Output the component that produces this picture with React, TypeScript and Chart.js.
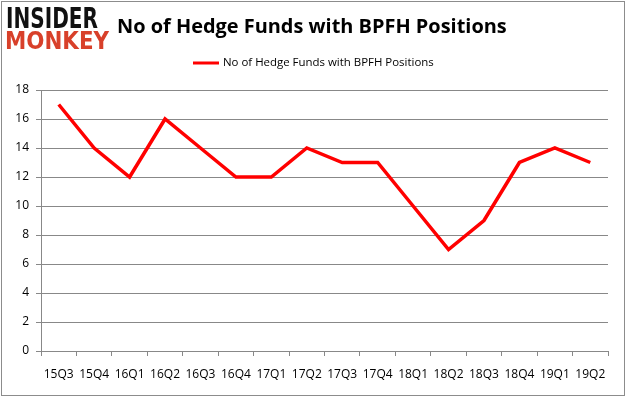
import React, { useEffect, useRef } from "react";
import { Chart, registerables } from "chart.js";

Chart.register(...registerables);

const categories = ["15Q3","15Q4","16Q1","16Q2","16Q3","16Q4","17Q1","17Q2","17Q3","17Q4","18Q1","18Q2","18Q3","18Q4","19Q1","19Q2"];
const hedgeFunds = [17,14,12,16,14,12,12,14,13,13,10,7,9,13,14,13];
const seriesLabel = "No of Hedge Funds with BPFH Positions";
const titleText = "No of Hedge Funds with BPFH Positions";

function fitFont(ctx: CanvasRenderingContext2D, text: string, weight: string, family: string, targetWidth: number) {
  ctx.font = `${weight} 100px ${family}`;
  const w = ctx.measureText(text).width;
  return (100 * targetWidth) / w;
}

const decorPlugin = {
  id: "decor",
  beforeDraw(chart: any) {
    const ctx = chart.ctx as CanvasRenderingContext2D;
    ctx.save();
    ctx.fillStyle = "#ffffff";
    ctx.fillRect(0, 0, chart.width, chart.height);
    ctx.restore();
  },
  afterDraw(chart: any) {
    const ctx = chart.ctx as CanvasRenderingContext2D;
    ctx.save();
    // outer border
    ctx.strokeStyle = "#8c8c8c";
    ctx.lineWidth = 1;
    ctx.strokeRect(1.5, 1.5, chart.width - 3, chart.height - 3);

    // logo
    const fam = "'DejaVu Sans'";
    let s = fitFont(ctx, "INSIDER", "bold", fam, 92);
    ctx.font = `bold ${s}px ${fam}`;
    ctx.textBaseline = "alphabetic";
    ctx.textAlign = "left";
    ctx.fillStyle = "#111111";
    ctx.save();
    ctx.translate(6, 28);
    ctx.scale(1, 21 / (s * 0.73));
    ctx.fillText("INSIDER", 0, 0);
    ctx.restore();
    s = fitFont(ctx, "MONKEY", "bold", fam, 104);
    ctx.font = `bold ${s}px ${fam}`;
    ctx.fillStyle = "#d8402a";
    ctx.save();
    ctx.translate(5, 49);
    ctx.scale(1, 18 / (s * 0.73));
    ctx.fillText("MONKEY", 0, 0);
    ctx.restore();

    // title
    const tf = "'Open Sans'";
    const ts = fitFont(ctx, titleText, "bold", tf, 390);
    ctx.font = `bold ${ts}px ${tf}`;
    ctx.fillStyle = "#000000";
    ctx.textBaseline = "middle";
    ctx.fillText(titleText, 117, 27);

    // legend
    ctx.strokeStyle = "#ff0000";
    ctx.lineWidth = 3;
    ctx.beginPath();
    ctx.moveTo(193, 63);
    ctx.lineTo(219, 63);
    ctx.stroke();
    const ls = fitFont(ctx, seriesLabel, "normal", tf, 211);
    ctx.font = `${ls}px ${tf}`;
    ctx.fillStyle = "#000000";
    ctx.fillText(seriesLabel, 223, 63);
    ctx.restore();
  },
};

export default function App() {
  const ref = useRef<HTMLCanvasElement>(null);
  useEffect(() => {
    document.body.style.margin = "0";
    const chart = new Chart(ref.current!, {
      type: "line",
      data: {
        labels: categories,
        datasets: [
          {
            label: seriesLabel,
            data: hedgeFunds,
            borderColor: "#ff0000",
            backgroundColor: "#ff0000",
            borderWidth: 3.5,
            pointRadius: 0,
            tension: 0,
          },
        ],
      },
      options: {
        animation: false,
        responsive: false,
        layout: { padding: { top: 90, right: 18, left: 0, bottom: 0 } },
        plugins: { legend: { display: false }, title: { display: false }, tooltip: { enabled: false } },
        scales: {
          x: {
            offset: true,
            afterFit: (s: any) => { s.height = 46; },
            grid: { offset: true, drawOnChartArea: false, drawTicks: true, tickLength: 5, color: "#888888" },
            border: { color: "#888888", width: 1 },
            ticks: { color: "#000000", font: { family: "'Open Sans'", size: 12 }, padding: 11, maxRotation: 0, autoSkip: false },
          },
          y: {
            min: 0,
            max: 18,
            afterFit: (s: any) => { s.width = 41; },
            grid: { color: "#888888", tickLength: 5, drawTicks: true },
            border: { color: "#888888", width: 1 },
            ticks: { stepSize: 2, color: "#000000", font: { family: "'Open Sans'", size: 12 }, padding: 7 },
          },
        },
      },
      plugins: [decorPlugin],
    });
    return () => chart.destroy();
  }, []);
  return <canvas ref={ref} width={626} height={397} style={{ display: "block" }} />;
}
